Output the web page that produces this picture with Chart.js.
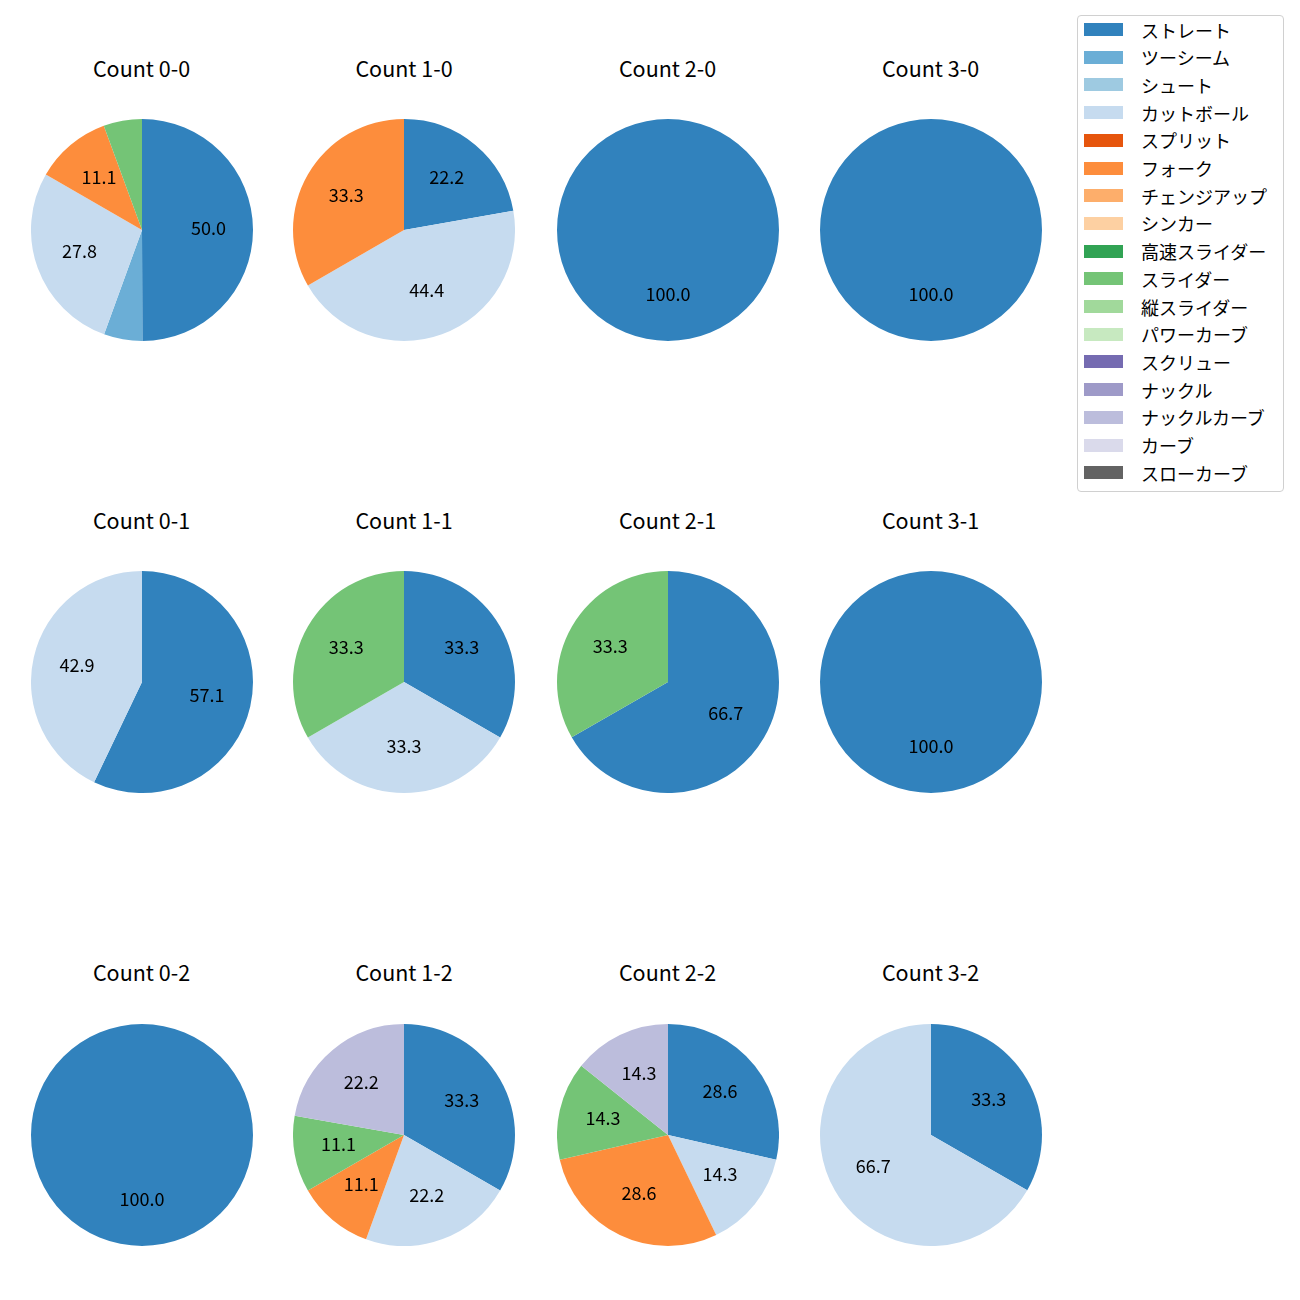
<!DOCTYPE html>
<html>
<head>
<meta charset="utf-8">
<script src="https://cdn.jsdelivr.net/npm/chart.js@4.4.0/dist/chart.umd.min.js"></script>
<style>
  body { margin: 0; background: #fff; font-family: "Noto Sans CJK JP", sans-serif; }
  #fig { position: relative; width: 1300px; height: 1300px; overflow: hidden; }
  .cell { position: absolute; width: 222px; height: 222px; }
  .title { position: absolute; width: 200px; text-align: center; font-size: 21.5px; line-height: 26px; color: #000; }
  #legend { position: absolute; left: 1077px; top: 15px; width: 205px; height: 475px;
            border: 1px solid #d0d0d0; border-radius: 4px; background: #fff; }
  .patch { position: absolute; left: 6px; width: 39px; height: 13px; }
  .ltext { position: absolute; left: 63px; font-size: 18px; line-height: 22px; color: #000; white-space: nowrap; }
</style>
</head>
<body>
<div id="fig"></div>
<script>
const pitchTypes = ["ストレート", "ツーシーム", "シュート", "カットボール", "スプリット", "フォーク",
  "チェンジアップ", "シンカー", "高速スライダー", "スライダー", "縦スライダー", "パワーカーブ",
  "スクリュー", "ナックル", "ナックルカーブ", "カーブ", "スローカーブ"];
const pitchColors = ["#3182bd", "#6baed6", "#9ecae1", "#c6dbef", "#e6550d", "#fd8d3c",
  "#fdae6b", "#fdd0a2", "#31a354", "#74c476", "#a1d99b", "#c7e9c0",
  "#756bb1", "#9e9ac8", "#bcbddc", "#dadaeb", "#636363"];

const countTitles = ["Count 0-0", "Count 1-0", "Count 2-0", "Count 3-0",
  "Count 0-1", "Count 1-1", "Count 2-1", "Count 3-1",
  "Count 0-2", "Count 1-2", "Count 2-2", "Count 3-2"];

// share (%) of each pitch type, same order as pitchTypes
const count00 = [50.0, 5.6, 0, 27.8, 0, 11.1, 0, 0, 0, 5.6, 0, 0, 0, 0, 0, 0, 0];
const count10 = [22.2, 0, 0, 44.4, 0, 33.3, 0, 0, 0, 0, 0, 0, 0, 0, 0, 0, 0];
const count20 = [100.0, 0, 0, 0, 0, 0, 0, 0, 0, 0, 0, 0, 0, 0, 0, 0, 0];
const count30 = [100.0, 0, 0, 0, 0, 0, 0, 0, 0, 0, 0, 0, 0, 0, 0, 0, 0];
const count01 = [57.1, 0, 0, 42.9, 0, 0, 0, 0, 0, 0, 0, 0, 0, 0, 0, 0, 0];
const count11 = [33.3, 0, 0, 33.3, 0, 0, 0, 0, 0, 33.3, 0, 0, 0, 0, 0, 0, 0];
const count21 = [66.7, 0, 0, 0, 0, 0, 0, 0, 0, 33.3, 0, 0, 0, 0, 0, 0, 0];
const count31 = [100.0, 0, 0, 0, 0, 0, 0, 0, 0, 0, 0, 0, 0, 0, 0, 0, 0];
const count02 = [100.0, 0, 0, 0, 0, 0, 0, 0, 0, 0, 0, 0, 0, 0, 0, 0, 0];
const count12 = [33.3, 0, 0, 22.2, 0, 11.1, 0, 0, 0, 11.1, 0, 0, 0, 0, 22.2, 0, 0];
const count22 = [28.6, 0, 0, 14.3, 0, 28.6, 0, 0, 0, 14.3, 0, 0, 0, 0, 14.3, 0, 0];
const count32 = [33.3, 0, 0, 66.7, 0, 0, 0, 0, 0, 0, 0, 0, 0, 0, 0, 0, 0];

const countData = [count00, count10, count20, count30,
  count01, count11, count21, count31,
  count02, count12, count22, count32];

const colX = [141.5, 404, 667.5, 930.5];
const rowY = [230, 682, 1134.5];
const titleY = [68, 520, 972];

// percentage text inside each slice, like autopct
const pctLabels = {
  id: "pctLabels",
  afterDatasetsDraw(chart) {
    const ctx = chart.ctx;
    const vals = chart.data.datasets[0].data;
    const meta = chart.getDatasetMeta(0);
    ctx.save();
    ctx.font = '18px "Noto Sans CJK JP", sans-serif';
    ctx.fillStyle = "#000";
    ctx.textAlign = "center";
    ctx.textBaseline = "middle";
    meta.data.forEach((arc, i) => {
      if (vals[i] < 10) return;
      const p = arc.getProps(["x", "y", "startAngle", "endAngle", "outerRadius"], true);
      const mid = (p.startAngle + p.endAngle) / 2;
      const r = p.outerRadius * 0.6;
      ctx.fillText(vals[i].toFixed(1), p.x + Math.cos(mid) * r, p.y + Math.sin(mid) * r - 2);
    });
    ctx.restore();
  }
};

const fig = document.getElementById("fig");

countData.forEach((vals, k) => {
  const col = k % 4, row = Math.floor(k / 4);

  const title = document.createElement("div");
  title.className = "title";
  title.textContent = countTitles[k];
  title.style.left = (colX[col] - 100) + "px";
  title.style.top = (titleY[row] - 13) + "px";
  fig.appendChild(title);

  const cell = document.createElement("div");
  cell.className = "cell";
  cell.style.left = (colX[col] - 111) + "px";
  cell.style.top = (rowY[row] - 111) + "px";
  const canvas = document.createElement("canvas");
  canvas.width = 222;
  canvas.height = 222;
  cell.appendChild(canvas);
  fig.appendChild(cell);

  new Chart(canvas.getContext("2d"), {
    type: "pie",
    data: {
      labels: pitchTypes,
      datasets: [{
        data: vals,
        backgroundColor: pitchColors,
        borderWidth: 0,
        offset: 0,
        hoverOffset: 0
      }]
    },
    options: {
      responsive: false,
      animation: false,
      layout: { padding: 0 },
      plugins: {
        legend: { display: false },
        tooltip: { enabled: false }
      }
    },
    plugins: [pctLabels]
  });
});

const legend = document.createElement("div");
legend.id = "legend";
pitchTypes.forEach((name, i) => {
  const cy = 13.5 + i * 27.7;
  const patch = document.createElement("div");
  patch.className = "patch";
  patch.style.top = (cy - 6.5) + "px";
  patch.style.background = pitchColors[i];
  legend.appendChild(patch);
  const txt = document.createElement("div");
  txt.className = "ltext";
  txt.style.top = (cy - 11) + "px";
  txt.textContent = name;
  legend.appendChild(txt);
});
fig.appendChild(legend);
</script>
</body>
</html>
